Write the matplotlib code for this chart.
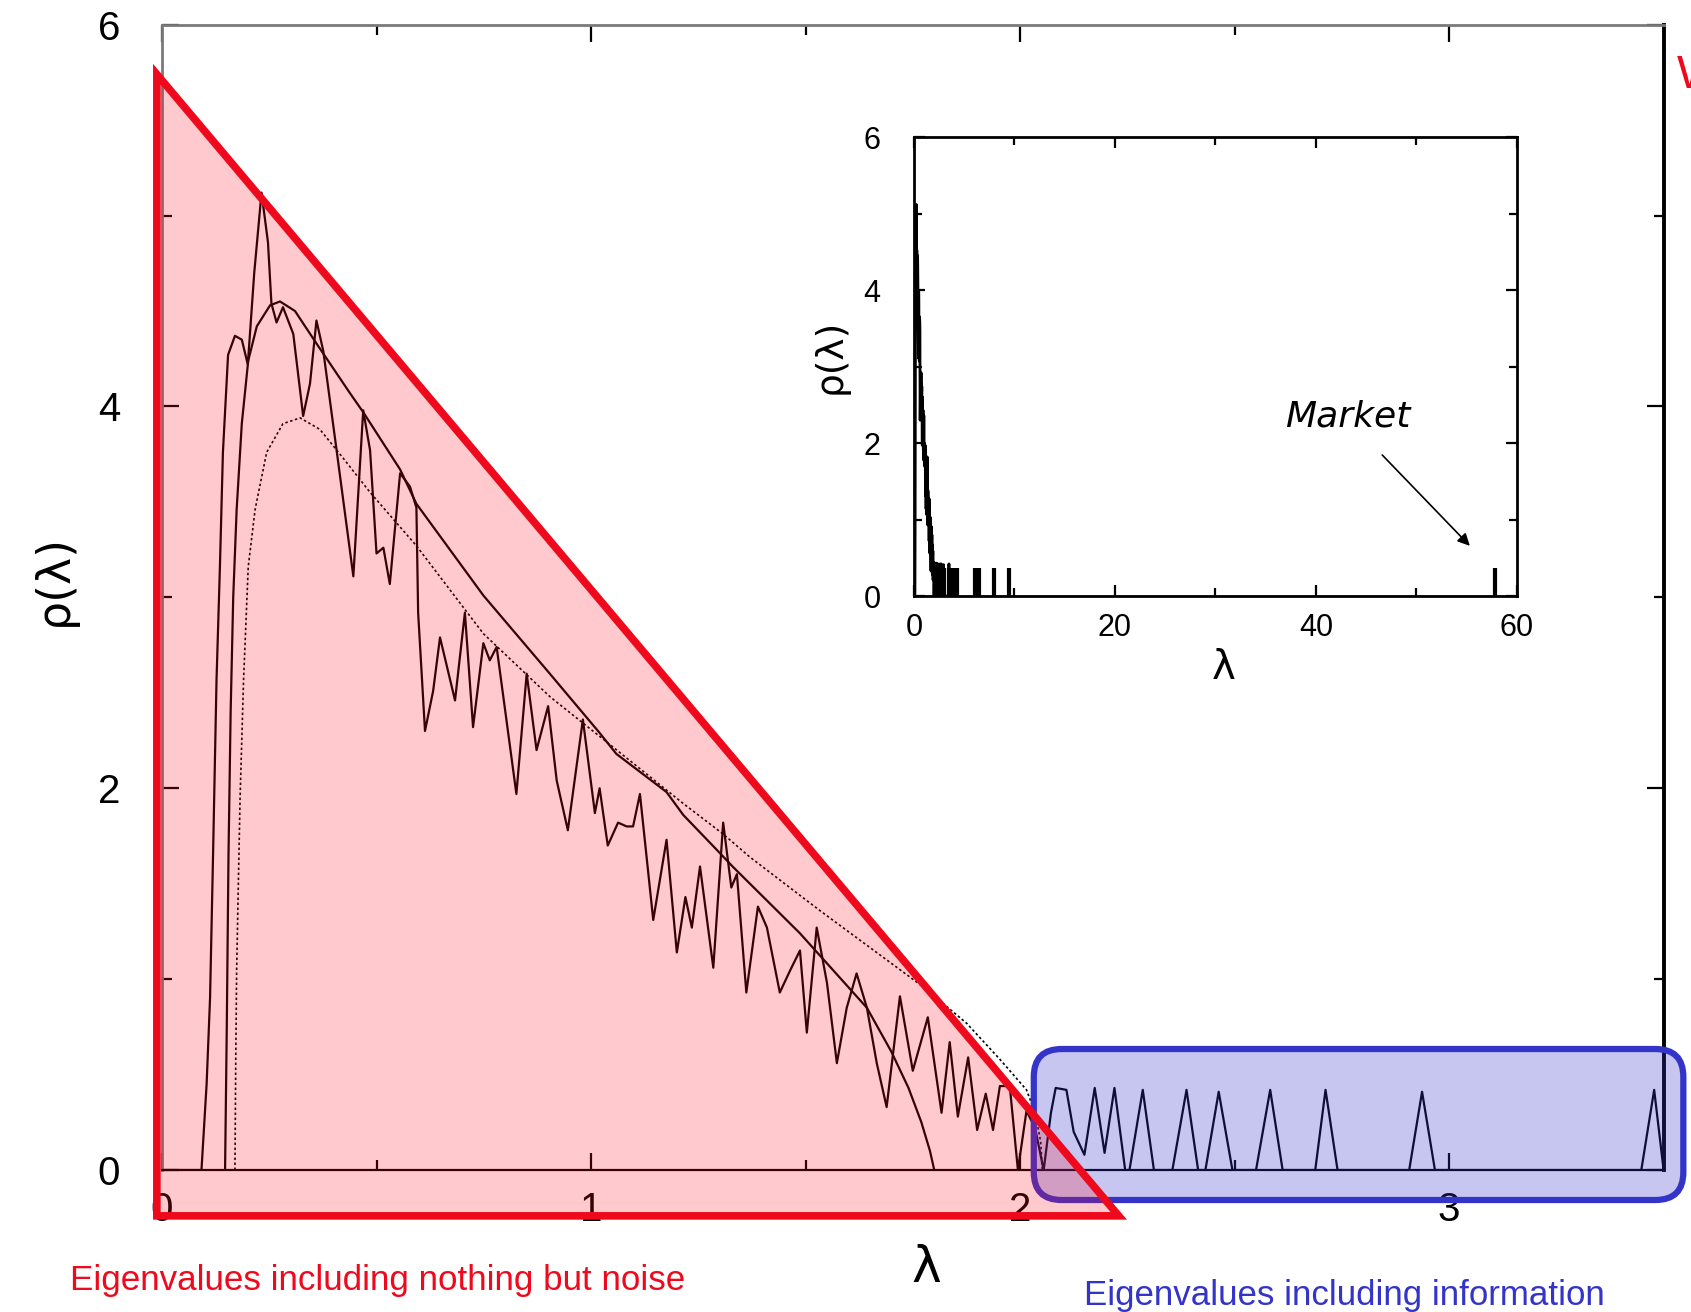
import matplotlib
matplotlib.use('Agg')
import matplotlib.pyplot as plt
from matplotlib import font_manager
from matplotlib.patches import Polygon, FancyBboxPatch

lam_emp = [0.000, 0.092, 0.104, 0.112, 0.119, 0.127, 0.135, 0.142, 0.154, 0.170,
           0.186, 0.200, 0.215, 0.232, 0.247, 0.255, 0.267, 0.282, 0.306, 0.329,
           0.345, 0.360, 0.376, 0.407, 0.446, 0.469, 0.485, 0.500, 0.516, 0.531,
           0.555, 0.578, 0.593, 0.597, 0.613, 0.632, 0.648, 0.683, 0.706, 0.725,
           0.749, 0.764, 0.780, 0.826, 0.850, 0.873, 0.900, 0.920, 0.946, 0.981,
           1.009, 1.020, 1.039, 1.063, 1.083, 1.098, 1.114, 1.145, 1.176, 1.200,
           1.220, 1.235, 1.254, 1.285, 1.308, 1.327, 1.340, 1.362, 1.389, 1.410,
           1.440, 1.465, 1.487, 1.503, 1.526, 1.550, 1.573, 1.596, 1.619, 1.643,
           1.666, 1.689, 1.720, 1.750, 1.785, 1.817, 1.836, 1.855, 1.879, 1.900,
           1.920, 1.937, 1.953, 1.976, 1.995, 2.015, 2.035, 2.055, 2.072, 2.083,
           2.108, 2.125, 2.150, 2.174, 2.197, 2.220, 2.245, 2.255, 2.286, 2.312,
           2.355, 2.388, 2.415, 2.432, 2.463, 2.495, 2.550, 2.583, 2.612, 2.688,
           2.712, 2.740, 2.907, 2.937, 2.967, 3.448, 3.478, 3.500]
rho_emp = [0.00, 0.00, 0.45, 0.90, 1.65, 2.56, 3.16, 3.76, 4.27, 4.37,
           4.35, 4.22, 4.70, 5.12, 4.86, 4.54, 4.44, 4.52, 4.38, 3.95,
           4.12, 4.45, 4.29, 3.77, 3.11, 3.98, 3.77, 3.23, 3.26, 3.07,
           3.65, 3.58, 3.47, 2.92, 2.30, 2.51, 2.79, 2.46, 2.92, 2.32,
           2.76, 2.67, 2.74, 1.97, 2.60, 2.20, 2.43, 2.04, 1.78, 2.36,
           1.87, 2.00, 1.70, 1.82, 1.80, 1.80, 1.97, 1.31, 1.73, 1.14,
           1.43, 1.27, 1.59, 1.06, 1.82, 1.48, 1.55, 0.93, 1.38, 1.27,
           0.93, 1.05, 1.15, 0.72, 1.27, 0.98, 0.56, 0.85, 1.03, 0.85,
           0.56, 0.33, 0.91, 0.52, 0.80, 0.30, 0.67, 0.28, 0.59, 0.21,
           0.40, 0.21, 0.44, 0.44, 0.00, 0.31, 0.22, 0.00, 0.30, 0.43,
           0.42, 0.20, 0.08, 0.43, 0.09, 0.43, 0.00, 0.00, 0.42, 0.00,
           0.00, 0.42, 0.00, 0.00, 0.41, 0.00, 0.00, 0.42, 0.00, 0.00,
           0.42, 0.00, 0.00, 0.41, 0.00, 0.00, 0.42, 0.00]

# smooth fitted density (solid)
lam_fit = [0.147, 0.151, 0.155, 0.160, 0.166, 0.174, 0.186, 0.201, 0.221, 0.252,
           0.275, 0.310, 0.360, 0.438, 0.469, 0.555, 0.593, 0.749, 0.904, 1.020,
           1.059, 1.176, 1.215, 1.292, 1.330, 1.487, 1.643, 1.700, 1.740, 1.770,
           1.790, 1.800]
rho_fit = [0.00, 0.75, 1.65, 2.40, 3.00, 3.46, 3.91, 4.24, 4.42, 4.53,
           4.55, 4.50, 4.33, 4.07, 3.97, 3.67, 3.49, 3.01, 2.60, 2.29,
           2.18, 1.98, 1.86, 1.68, 1.59, 1.24, 0.85, 0.62, 0.43, 0.25,
           0.10, 0.00]

# second theoretical density (dotted)
lam_dot = [0.170, 0.172, 0.174, 0.182, 0.190, 0.201, 0.217, 0.244, 0.282, 0.322,
           0.368, 0.422, 0.485, 0.593, 0.749, 0.904, 1.060, 1.215, 1.308, 1.370,
           1.533, 1.774, 1.875, 1.953, 2.015, 2.035, 2.048, 2.052]
rho_dot = [0.00, 0.60, 1.05, 1.95, 2.56, 3.16, 3.46, 3.76, 3.91, 3.94,
           3.88, 3.73, 3.55, 3.27, 2.81, 2.48, 2.20, 1.92, 1.76, 1.64,
           1.36, 0.96, 0.77, 0.58, 0.42, 0.30, 0.15, 0.00]

# inset: isolated large eigenvalues
inset_bar_x = [2.2, 2.6, 3.0, 3.5, 3.9, 4.3, 6.1, 6.5, 8.0, 9.5, 57.8]
inset_bar_h = [0.37, 0.37, 0.37, 0.37, 0.37, 0.37, 0.37, 0.37, 0.37, 0.37, 0.37]

main_xticks = [0, 1, 2, 3]
main_yticks = [0, 2, 4, 6]
inset_xticks = [0, 20, 40, 60]
inset_yticks = [0, 2, 4, 6]

names = {f.name for f in font_manager.fontManager.ttflist}
narrow = 'Liberation Sans Narrow' if 'Liberation Sans Narrow' in names else 'Liberation Sans'
plt.rcParams['font.family'] = ['Liberation Sans', 'DejaVu Sans']

RED = '#EE0A1C'
BLUE = '#3434C8'

fig = plt.figure(figsize=(16.91, 13.12), dpi=100)
ax = fig.add_axes([0.0958, 0.1082, 0.888, 0.873])

ax.plot(lam_emp, rho_emp, color='black', lw=1.6, zorder=2)
ax.plot(lam_fit, rho_fit, color='black', lw=1.6, zorder=2)
ax.plot(lam_dot, rho_dot, color='black', lw=1.2, ls=(0, (1.5, 1.5)), zorder=2)

ax.set_xlim(0, 3.5)
ax.set_ylim(0, 6)
ax.set_xticks(main_xticks)
ax.set_yticks(main_yticks)
ax.set_xticks([0.5, 1.5, 2.5], minor=True)
ax.set_yticks([1, 3, 5], minor=True)
ax.tick_params(which='both', direction='in', top=True, right=True, width=1.6, colors='black')
ax.tick_params(which='major', length=12)
ax.tick_params(which='minor', length=7)
ax.tick_params(axis='x', labelsize=29, pad=15)
ax.tick_params(axis='y', labelsize=29, pad=30)
for s in ['top', 'left']:
    ax.spines[s].set_color('#7a7a7a')
    ax.spines[s].set_linewidth(2)
ax.spines['right'].set_linewidth(2.8)
ax.spines['bottom'].set_linewidth(1.6)

fig.text(54 / 1691, 1 - 580 / 1312, 'ρ(λ)', rotation=90, ha='center', va='center',
         fontsize=33, family='DejaVu Sans')
fig.text(926 / 1691, 1 - 1268 / 1312, 'λ', ha='center', va='center',
         fontsize=36, family='DejaVu Sans')

# blue rounded box around the informative eigenvalues
p0 = ax.transData.transform((0, 0))
p1 = ax.transData.transform((1, 1))
aspect = (p1[0] - p0[0]) / (p1[1] - p0[1])
box = FancyBboxPatch((2.032, -0.157), 3.546 - 2.032, 0.634 + 0.157,
                     boxstyle='round,pad=0,rounding_size=0.065',
                     mutation_aspect=aspect,
                     facecolor=(0.2, 0.2, 0.8, 0.28), edgecolor=BLUE, lw=4.5,
                     clip_on=False, zorder=3)
ax.add_patch(box)

# red triangle over the noise band
tri = [(-0.012, 5.74), (-0.012, -0.24), (2.23, -0.24)]
ax.add_patch(Polygon(tri, closed=True, facecolor=(1.0, 0.05, 0.12, 0.22),
                     edgecolor='none', clip_on=False, zorder=4))
ax.add_patch(Polygon(tri, closed=True, facecolor='none', edgecolor=RED, lw=5.5,
                     joinstyle='miter', clip_on=False, zorder=5))

t_red = fig.text(70 / 1691, 1 - 1290 / 1312, 'Eigenvalues including nothing but noise',
                 color=RED, fontsize=28, family=narrow, ha='left', va='baseline')
t_blue = fig.text(1084 / 1691, 1 - 1305 / 1312, 'Eigenvalues including information',
                  color=BLUE, fontsize=28, family=narrow, ha='left', va='baseline')
fig.text(1677 / 1691, 1 - 88 / 1312, 'W', color=RED, fontsize=34, family=narrow,
         ha='left', va='baseline')

# fit the annotation texts to the widths they take in the original
fig.canvas.draw()
renderer = fig.canvas.get_renderer()
for t, target in [(t_red, 614), (t_blue, 520)]:
    w = t.get_window_extent(renderer).width
    t.set_fontsize(t.get_fontsize() * target / w)

# inset: full spectrum with the market eigenvalue
ax2 = fig.add_axes([0.5405, 0.5457, 0.3566, 0.3498])
ax2.axhline(0, color='#bbbbbb', lw=2, zorder=1)
ax2.plot(lam_emp, rho_emp, color='black', lw=2, zorder=2)
ax2.vlines(inset_bar_x, 0, inset_bar_h, color='black', lw=3, zorder=2)
ax2.set_xlim(0, 60)
ax2.set_ylim(0, 6)
ax2.set_xticks(inset_xticks)
ax2.set_yticks(inset_yticks)
ax2.set_xticks([10, 30, 50], minor=True)
ax2.set_yticks([1, 3, 5], minor=True)
ax2.tick_params(which='both', direction='in', top=True, right=True, width=1.6)
ax2.tick_params(which='major', length=8)
ax2.tick_params(which='minor', length=6)
ax2.tick_params(axis='x', labelsize=22, pad=12)
ax2.tick_params(axis='y', labelsize=22, pad=24)
for s in ax2.spines.values():
    s.set_linewidth(2)
ax2.text(43.2, 2.35, 'Market', ha='center', va='center', fontsize=26,
         style='italic', family='DejaVu Sans')
ax2.annotate('', xy=(55.5, 0.63), xytext=(46.4, 1.87),
             arrowprops=dict(arrowstyle='-|>', color='black', lw=1.2, mutation_scale=18))
fig.text(831 / 1691, 1 - 356 / 1312, 'ρ(λ)', rotation=90, ha='center', va='center',
         fontsize=27, family='DejaVu Sans')
fig.text(1224 / 1691, 1 - 668 / 1312, 'λ', ha='center', va='center',
         fontsize=29, family='DejaVu Sans')

fig.savefig('out.png', dpi=100)
